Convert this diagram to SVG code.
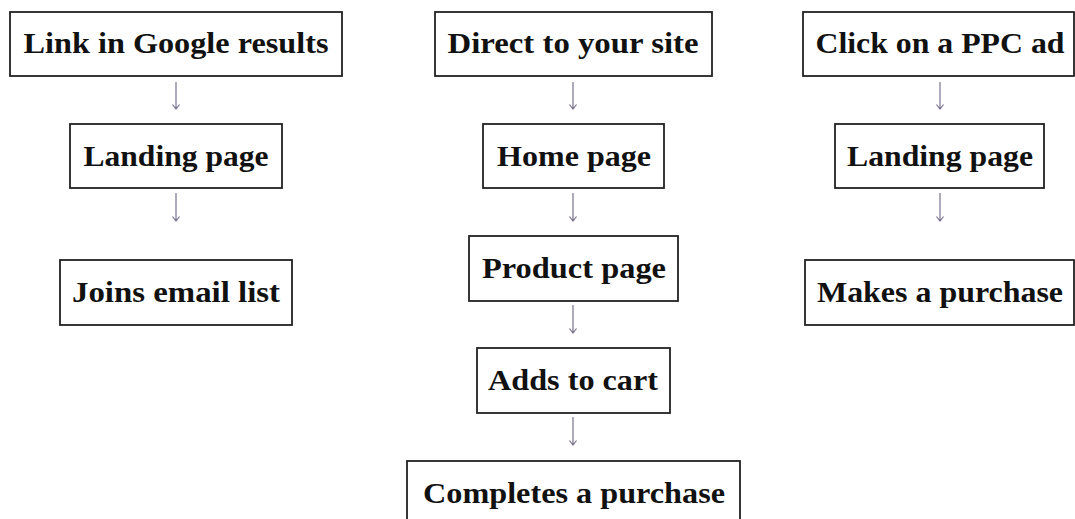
<svg xmlns="http://www.w3.org/2000/svg" width="1075" height="519" viewBox="0 0 1075 519">
<defs>
<style>
.box{fill:#fff;stroke:#222;stroke-width:1.8}
.lbl{font-family:"Liberation Serif","DejaVu Serif",serif;font-weight:bold;font-size:30px;fill:#111;text-anchor:middle}
.arr{stroke:#7a7390;stroke-width:1.2;fill:none}
</style>
</defs>
<rect width="1075" height="519" fill="#fff"/>
<g id="connectors">
<path class="arr" d="M176 82V109M172.5 104.5L176 109L179.5 104.5"/>
<path class="arr" d="M176 193V221M172.5 216.5L176 221L179.5 216.5"/>
<path class="arr" d="M573 82V109M569.5 104.5L573 109L576.5 104.5"/>
<path class="arr" d="M573 193V221M569.5 216.5L573 221L576.5 216.5"/>
<path class="arr" d="M573 305V333M569.5 328.5L573 333L576.5 328.5"/>
<path class="arr" d="M573 417V445M569.5 440.5L573 445L576.5 440.5"/>
<path class="arr" d="M940 82V109M936.5 104.5L940 109L943.5 104.5"/>
<path class="arr" d="M940 193V221M936.5 216.5L940 221L943.5 216.5"/>
</g>
<g id="n1"><rect class="box" x="10" y="12" width="332" height="64"/><text class="lbl" x="176" y="53" textLength="305" lengthAdjust="spacingAndGlyphs">Link in Google results</text></g>
<g id="n2"><rect class="box" x="70" y="124" width="212" height="64"/><text class="lbl" x="176" y="166" textLength="185" lengthAdjust="spacingAndGlyphs">Landing page</text></g>
<g id="n3"><rect class="box" x="60" y="260" width="232" height="65"/><text class="lbl" x="176" y="302" textLength="208" lengthAdjust="spacingAndGlyphs">Joins email list</text></g>
<g id="n4"><rect class="box" x="435" y="12" width="277" height="64"/><text class="lbl" x="573" y="53" textLength="251" lengthAdjust="spacingAndGlyphs">Direct to your site</text></g>
<g id="n5"><rect class="box" x="483" y="124" width="181" height="64"/><text class="lbl" x="574" y="166" textLength="154" lengthAdjust="spacingAndGlyphs">Home page</text></g>
<g id="n6"><rect class="box" x="469" y="236" width="209" height="65"/><text class="lbl" x="574" y="278" textLength="184" lengthAdjust="spacingAndGlyphs">Product page</text></g>
<g id="n7"><rect class="box" x="477" y="348" width="193" height="65"/><text class="lbl" x="573" y="390" textLength="170" lengthAdjust="spacingAndGlyphs">Adds to cart</text></g>
<g id="n8"><rect class="box" x="407" y="461" width="333" height="70"/><text class="lbl" x="574" y="503" textLength="302" lengthAdjust="spacingAndGlyphs">Completes a purchase</text></g>
<g id="n9"><rect class="box" x="803" y="12" width="271" height="64"/><text class="lbl" x="940" y="53" textLength="249" lengthAdjust="spacingAndGlyphs">Click on a PPC ad</text></g>
<g id="n10"><rect class="box" x="835" y="124" width="209" height="64"/><text class="lbl" x="940" y="166" textLength="186" lengthAdjust="spacingAndGlyphs">Landing page</text></g>
<g id="n11"><rect class="box" x="805" y="260" width="269" height="65"/><text class="lbl" x="940" y="302" textLength="246" lengthAdjust="spacingAndGlyphs">Makes a purchase</text></g>
</svg>
